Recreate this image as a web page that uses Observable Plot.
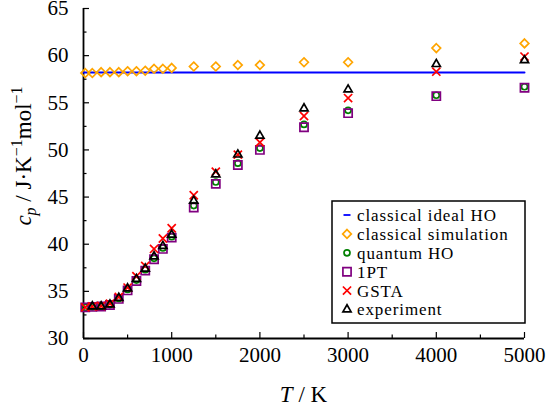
<!DOCTYPE html>
<html><head><meta charset="utf-8">
<script src="https://cdn.jsdelivr.net/npm/d3@7"></script>
<script src="https://cdn.jsdelivr.net/npm/@observablehq/plot@0.6"></script>
<style>body{margin:0;background:#fff} #chart{width:547px;height:409px}</style>
</head><body><div id="chart"></div>
<script>
// Temperatures (K)
const simT = [20,100,200,300,400,500,600,700,800,900,1000,1250,1500,1750,2000,2500,3000,4000,5000];
const expT = [100,200,300,400,500,600,700,800,900,1000,1250,1500,1750,2000,2500,3000,4000,5000];
const hoT = [0,5000];
// c_p values (J K^-1 mol^-1)
const classicalIdealHO = [58.2,58.2];
const classicalSim = [58.15,58.15,58.25,58.25,58.25,58.35,58.35,58.4,58.6,58.6,58.7,58.85,58.85,59.0,59.0,59.3,59.3,60.8,61.3];
const quantumHO = [33.3,33.35,33.4,33.6,34.25,35.2,36.2,37.3,38.5,39.6,40.8,44.1,46.6,48.6,50.2,52.7,54.2,55.8,56.7];
const onePT = [33.3,33.35,33.4,33.55,34.2,35.1,36.1,37.2,38.4,39.5,40.7,43.9,46.4,48.4,50.0,52.4,53.9,55.7,56.6];
const gsta = [33.3,33.4,33.45,33.7,34.4,35.4,36.6,37.7,39.5,40.6,41.7,45.2,47.7,49.5,50.8,53.6,55.5,58.3,59.9];
const experiment = [33.4,33.4,33.6,34.3,35.3,36.3,37.4,38.7,39.8,41.0,44.6,47.4,49.5,51.5,54.4,56.4,59.1,59.5];
// ticks
const xTicks = [0,1000,2000,3000,4000,5000];
const xMinor = [500,1500,2500,3500,4500];
const yTicks = [30,35,40,45,50,55,60,65];
const yMinor = [32.5,37.5,42.5,47.5,52.5,57.5,62.5];
const legendLabels = ["classical ideal HO","classical simulation","quantum HO","1PT","GSTA","experiment"];

const rows = (Ts, vals) => Ts.map((T, i) => ({T, cp: vals[i]}));

const W = 547, H = 409, mL = 83, mR = 23, mT = 8, mB = 71;
const pw = W - mL - mR, ph = H - mT - mB;
const FONT = "'Liberation Serif', 'Times New Roman', serif";

const styles = [
  {symbol: "diamond2", r: 3.9, stroke: "#ffa500"},
  {symbol: "circle", r: 3.0, stroke: "#008000"},
  {symbol: "square2", r: 5.2, stroke: "#800080"},
  {symbol: "times", r: 3.8, stroke: "#ff0000"},
  {symbol: "triangle2", r: 3.9, stroke: "#000000"}
];
const series = [rows(simT, classicalSim), rows(simT, quantumHO), rows(simT, onePT), rows(simT, gsta), rows(expT, experiment)];

const plot = Plot.plot({
  width: W, height: H,
  marginLeft: mL, marginRight: mR, marginTop: mT, marginBottom: mB,
  style: {fontFamily: FONT, fontSize: "21px", background: "#fff", color: "#000", overflow: "visible"},
  x: {domain: [0, 5000]},
  y: {domain: [30, 65]},
  marks: [
    Plot.axisX({ticks: xTicks, tickSize: 0, tickPadding: 9, label: null, tickFormat: d => String(d)}),
    Plot.axisY({ticks: yTicks, tickSize: 0, tickPadding: 15, label: null, tickFormat: d => String(d)}),
    Plot.tickX(xTicks, {x: d => d, insetTop: ph - 6, stroke: "#000", strokeWidth: 1.2}),
    Plot.tickX(xMinor, {x: d => d, insetTop: ph - 3.5, stroke: "#000", strokeWidth: 1.2}),
    Plot.tickY(yTicks, {y: d => d, insetRight: pw - 6, stroke: "#000", strokeWidth: 1.2}),
    Plot.tickY(yMinor, {y: d => d, insetRight: pw - 3.5, stroke: "#000", strokeWidth: 1.2}),
    Plot.ruleX([0], {stroke: "#000", strokeWidth: 1.8}),
    Plot.ruleY([30], {stroke: "#000", strokeWidth: 1.8}),
    Plot.line(rows(hoT, classicalIdealHO), {x: "T", y: "cp", stroke: "#0000ff", strokeWidth: 2}),
    ...series.map((d, i) => Plot.dot(d, {x: "T", y: "cp", symbol: styles[i].symbol, r: styles[i].r, stroke: styles[i].stroke, strokeWidth: 1.7, fill: "none"}))
  ]
});
document.getElementById("chart").appendChild(plot);

const svg = d3.select(plot);
// x label
const xl = svg.append("text").attr("x", mL + pw / 2).attr("y", 402).attr("text-anchor", "middle")
  .attr("font-family", FONT).attr("font-size", 23).attr("fill", "#000");
xl.append("tspan").attr("font-style", "italic").text("T");
xl.append("tspan").text(" / K");
// y label
const yl = svg.append("text").attr("transform", "translate(31,156) rotate(-90)").attr("text-anchor", "middle")
  .attr("font-family", FONT).attr("font-size", 23).attr("fill", "#000");
yl.append("tspan").attr("font-style", "italic").text("c");
yl.append("tspan").attr("font-style", "italic").attr("font-size", 16).attr("dy", 5).text("p");
yl.append("tspan").attr("dy", -5).text(" / J·K");
yl.append("tspan").attr("font-size", 16).attr("dy", -9).text("−1");
yl.append("tspan").attr("dy", 9).text("mol");
yl.append("tspan").attr("font-size", 16).attr("dy", -9).text("−1");

// legend
const lg = svg.append("g").attr("text-anchor", "start");
lg.append("rect").attr("x", 332).attr("y", 201).attr("width", 193).attr("height", 122)
  .attr("fill", "#fff").attr("stroke", "#000").attr("stroke-width", 1.5);
const symMap = {diamond2: d3.symbolDiamond2, square2: d3.symbolSquare2, times: d3.symbolTimes, triangle2: d3.symbolTriangle2};
legendLabels.forEach((lab, i) => {
  const y = 215 + i * 18.9;
  if (i === 0) {
    lg.append("line").attr("x1", 343.5).attr("x2", 350.5).attr("y1", y).attr("y2", y).attr("stroke", "#0000ff").attr("stroke-width", 1.8);
  } else {
    const s = styles[i - 1];
    if (s.symbol === "circle") {
      lg.append("circle").attr("cx", 347).attr("cy", y).attr("r", s.r).attr("fill", "none").attr("stroke", s.stroke).attr("stroke-width", 1.7);
    } else {
      lg.append("path").attr("transform", `translate(347,${y})`).attr("d", d3.symbol(symMap[s.symbol], s.r * s.r * Math.PI)())
        .attr("fill", "none").attr("stroke", s.stroke).attr("stroke-width", 1.7);
    }
  }
  lg.append("text").attr("x", 357).attr("y", y).attr("dy", "0.35em").attr("text-anchor", "start")
    .attr("font-family", FONT).attr("font-size", 17).attr("letter-spacing", "0.9px").attr("fill", "#000").text(lab);
});
</script>
</body></html>
